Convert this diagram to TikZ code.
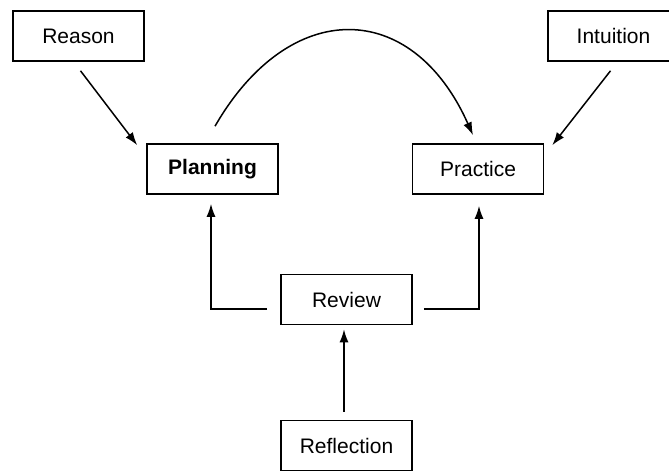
\documentclass[tikz,border=0pt]{standalone}
\usepackage{fontspec}
\setmainfont{Liberation Sans}
\usetikzlibrary{positioning,arrows.meta}

\begin{document}
\begin{tikzpicture}[
        x=1pt, y=-1pt,
        every node/.style = {shape=rectangle, draw, line width=1.6pt,
                             minimum width=131pt, minimum height=50pt,
                             align=center, font=\fontsize{21}{25}\selectfont},
        link/.style = {line width=1.5pt, -{Latex[length=13pt,width=9pt]}}]
    \useasboundingbox (0,0) rectangle (669,471);

    \node (reason)    at (78.5,36)   {Reason};
    \node (intuition) at (613.5,36)  {Intuition};
    \node (planning)  at (212.5,169) {\textbf{Planning}};
    \node (practice)  at (478,169)   {Practice};
    \node (review)    at (346.5,299.5) {Review};
    \node (reflection) at (346.5,445.5) {Reflection};

    \draw [link] ([xshift=2pt, yshift=-9pt]reason.south)
        -- ([xshift=-9pt, yshift=-2pt]planning.north west);
    \draw [link] ([xshift=-3pt, yshift=-9pt]intuition.south)
        -- ([xshift=8pt, yshift=-2pt]practice.north east);

    \draw [link] ([xshift=2.5pt, yshift=17pt]planning.north)
        to[out=60, in=114, looseness=1.48]
        ([xshift=-5pt, yshift=8pt]practice.north);

    \draw [link] ([xshift=-13pt, yshift=-9.5pt]review.west)
        -| ([xshift=-1.5pt, yshift=-9pt]planning.south);
    \draw [link] ([xshift=11pt, yshift=-9.5pt]review.east)
        -| ([xshift=1pt, yshift=-11pt]practice.south);

    \draw [link] ([xshift=-2.5pt, yshift=8pt]reflection.north)
        -- ([xshift=-2.5pt, yshift=-4pt]review.south);
\end{tikzpicture}
\end{document}
